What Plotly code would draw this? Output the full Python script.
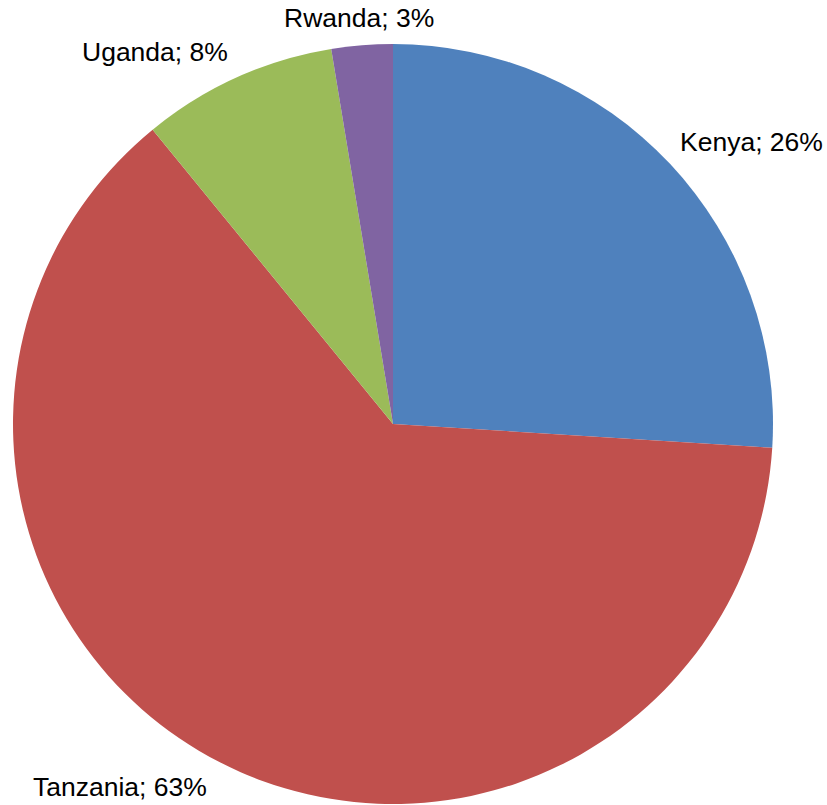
import plotly.graph_objects as go

labels = ["Kenya", "Tanzania", "Uganda", "Rwanda"]
values = [26.0, 63.1, 8.3, 2.6]
colors = ["#4F81BD", "#C0504D", "#9BBB59", "#8064A2"]
# label anchor positions in pixels (x, y from top)
label_px = [(751, 142), (120, 787), (155, 52), (359, 18)]

W, H = 827, 805
cx, cy, r = 393, 424, 380

fig = go.Figure(go.Pie(
    labels=labels, values=values, sort=False, direction="clockwise", rotation=0,
    marker=dict(colors=colors, line=dict(width=0)),
    textinfo="none", hoverinfo="label+percent", showlegend=False,
    domain=dict(x=[(cx - r) / W, (cx + r) / W], y=[1 - (cy + r) / H, 1 - (cy - r) / H]),
))

total = sum(values)
for lab, v, (px, py) in zip(labels, values, label_px):
    fig.add_annotation(
        x=px / W, y=1 - py / H, xref="paper", yref="paper",
        text=f"{lab}; {round(100 * v / total)}%", showarrow=False,
        xanchor="center", yanchor="middle",
        font=dict(family="Liberation Sans, Arial, sans-serif", size=26.5, color="#000000"),
    )

fig.update_layout(
    width=W, height=H, margin=dict(l=0, r=0, t=0, b=0),
    paper_bgcolor="white", plot_bgcolor="white",
)
fig.write_html("out.html")
